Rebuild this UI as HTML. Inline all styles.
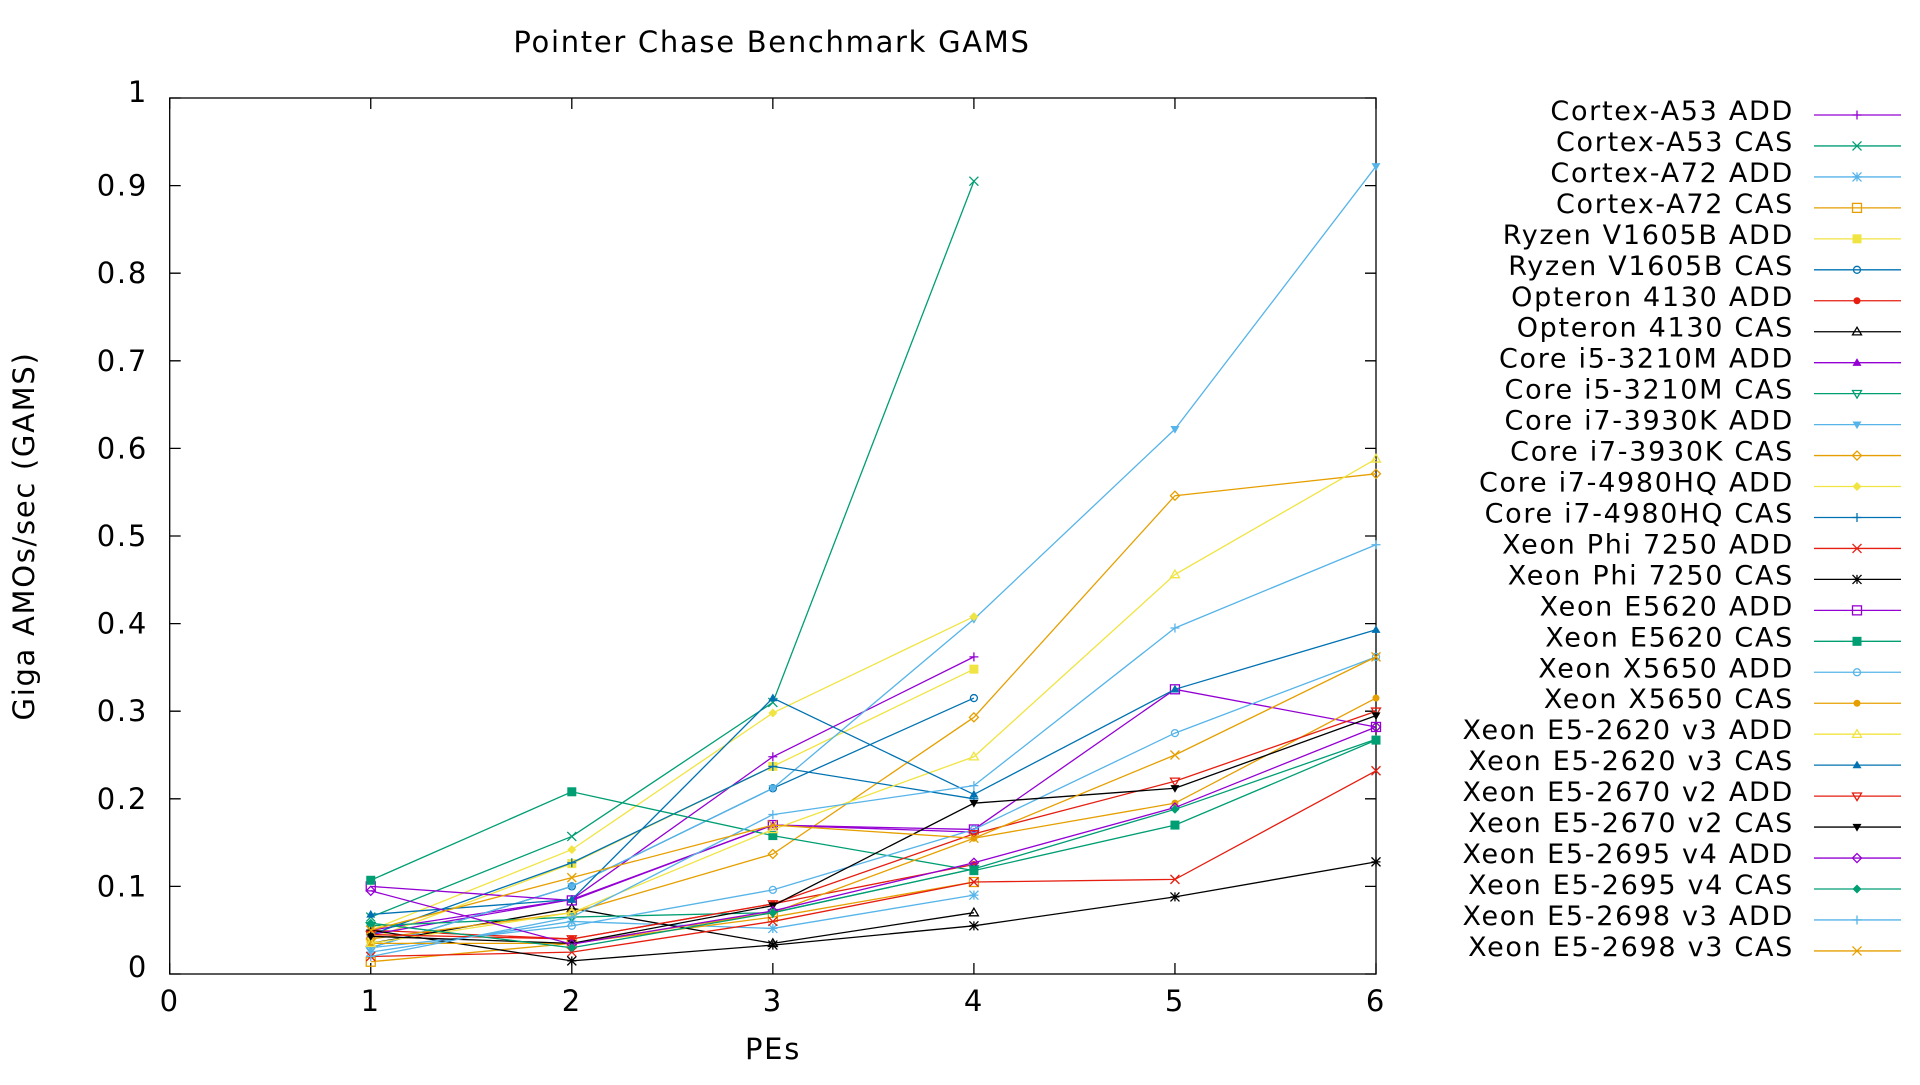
<!DOCTYPE html>
<html><head><meta charset="utf-8"><style>
html,body{margin:0;padding:0;background:#fff;}
svg text{font-family:"DejaVu Sans","Liberation Sans",sans-serif;fill:#000;letter-spacing:1.7px;}
</style></head><body>
<svg id="chart" width="1920" height="1080" xmlns="http://www.w3.org/2000/svg">
<rect x="0" y="0" width="1920" height="1080" fill="#fff"/>
<text x="772" y="52" font-size="29" text-anchor="middle">Pointer Chase Benchmark GAMS</text>
<text x="0" y="0" font-size="29" text-anchor="middle" transform="translate(34,536) rotate(-90)">Giga AMOs/sec (GAMS)</text>
<text x="773" y="1059" font-size="29" text-anchor="middle">PEs</text>
<g id="axes"></g>
<g id="series"></g>
<g id="legend"></g>
</svg>
<script>
const xTicks = [0,1,2,3,4,5,6];
const yTicks = [0,0.1,0.2,0.3,0.4,0.5,0.6,0.7,0.8,0.9,1];
const yTickLabels = ["0","0.1","0.2","0.3","0.4","0.5","0.6","0.7","0.8","0.9","1"];
const seriesNames = ["Cortex-A53 ADD","Cortex-A53 CAS","Cortex-A72 ADD","Cortex-A72 CAS","Ryzen V1605B ADD","Ryzen V1605B CAS","Opteron 4130 ADD","Opteron 4130 CAS","Core i5-3210M ADD","Core i5-3210M CAS","Core i7-3930K ADD","Core i7-3930K CAS","Core i7-4980HQ ADD","Core i7-4980HQ CAS","Xeon Phi 7250 ADD","Xeon Phi 7250 CAS","Xeon E5620 ADD","Xeon E5620 CAS","Xeon X5650 ADD","Xeon X5650 CAS","Xeon E5-2620 v3 ADD","Xeon E5-2620 v3 CAS","Xeon E5-2670 v2 ADD","Xeon E5-2670 v2 CAS","Xeon E5-2695 v4 ADD","Xeon E5-2695 v4 CAS","Xeon E5-2698 v3 ADD","Xeon E5-2698 v3 CAS"];
const pes4 = [1,2,3,4];
const pes6 = [1,2,3,4,5,6];
const cortexA53Add = [0.05,0.085,0.248,0.362];
const cortexA53Cas = [0.065,0.157,0.31,0.905];
const cortexA72Add = [0.025,0.06,0.052,0.09];
const cortexA72Cas = [0.014,0.035,0.065,0.105];
const ryzenAdd = [0.04,0.126,0.237,0.348];
const ryzenCas = [0.03,0.1,0.212,0.315];
const opteronAdd = [0.05,0.04,0.08,0.125];
const opteronCas = [0.035,0.075,0.035,0.07];
const i5Add = [0.045,0.085,0.17,0.162];
const i5Cas = [0.055,0.065,0.07,0.12];
const i7_3930Add = [0.03,0.1,0.212,0.405,0.622,0.922];
const i7_3930Cas = [0.04,0.07,0.137,0.293,0.546,0.571];
const i7_4980Add = [0.05,0.142,0.298,0.408];
const i7_4980Cas = [0.045,0.127,0.237,0.2];
const phiAdd = [0.02,0.025,0.06,0.105,0.108,0.232];
const phiCas = [0.05,0.015,0.033,0.055,0.088,0.128];
const e5620Add = [0.1,0.084,0.17,0.165,0.325,0.282];
const e5620Cas = [0.107,0.208,0.158,0.118,0.17,0.267];
const x5650Add = [0.03,0.055,0.096,0.165,0.275,0.362];
const x5650Cas = [0.035,0.035,0.07,0.155,0.195,0.315];
const e2620Add = [0.035,0.07,0.165,0.248,0.456,0.588];
const e2620Cas = [0.068,0.085,0.315,0.205,0.325,0.393];
const e2670Add = [0.045,0.04,0.08,0.16,0.22,0.3];
const e2670Cas = [0.043,0.035,0.078,0.195,0.212,0.295];
const e2695Add = [0.095,0.034,0.072,0.127,0.19,0.282];
const e2695Cas = [0.058,0.03,0.07,0.12,0.188,0.268];
const e2698Add = [0.02,0.065,0.182,0.215,0.395,0.49];
const e2698Cas = [0.05,0.11,0.17,0.155,0.25,0.362];

const seriesY = [cortexA53Add,cortexA53Cas,cortexA72Add,cortexA72Cas,ryzenAdd,ryzenCas,opteronAdd,opteronCas,i5Add,i5Cas,i7_3930Add,i7_3930Cas,i7_4980Add,i7_4980Cas,phiAdd,phiCas,e5620Add,e5620Cas,x5650Add,x5650Cas,e2620Add,e2620Cas,e2670Add,e2670Cas,e2695Add,e2695Cas,e2698Add,e2698Cas];
const colors = ["#9400d3","#009e73","#56b4e9","#e69f00","#f0e442","#0072b2","#e51e10","#000000"];
const markers = ["plus","cross","star","osquare","fsquare","ocircle","fcircle","otri","ftri","otridown","ftridown","odiamond","fdiamond","plus"];

const X0=169.7, X1=1376, Y0=974, Y1=98;
function sx(v){return X0+(v-0)/(6-0)*(X1-X0);}
function sy(v){return Y0-(v-0)/(1-0)*(Y0-Y1);}
const NS="http://www.w3.org/2000/svg";
function mk(tag,attrs,parent){const e=document.createElementNS(NS,tag);for(const k in attrs)e.setAttribute(k,attrs[k]);parent.appendChild(e);return e;}

const axes=document.getElementById('axes');
const frame=mk('rect',{x:X0,y:Y1,width:X1-X0,height:Y0-Y1,fill:'none',stroke:'#000','stroke-width':1.3},axes);


xTicks.forEach(t=>{
  const x=sx(t);
  const tk=mk('path',{d:`M${x},${Y0}v-11M${x},${Y1}v11`,stroke:'#000','stroke-width':1.3},axes);
  
  
  const lb=mk('text',{x:x,y:Y0+37,'font-size':29,'text-anchor':'middle'},axes);
  lb.textContent=String(t);
  
  
});
yTicks.forEach((t,i)=>{
  const y=sy(t);
  const tk=mk('path',{d:`M${X0},${y}h11M${X1},${y}h-11`,stroke:'#000','stroke-width':1.3},axes);
  
  
  const lb=mk('text',{x:148,y:y+(i===0?3:i===10?4:10),'font-size':29,'text-anchor':'end'},axes);
  lb.textContent=yTickLabels[i];
  
  
});

function drawMarker(g,type,x,y,c){
  const r=4.5;let e;
  switch(type){
    case 'plus': e=mk('path',{d:`M${x-r},${y}h${2*r}M${x},${y-r}v${2*r}`,stroke:c,'stroke-width':1.3,fill:'none'},g);break;
    case 'cross': e=mk('path',{d:`M${x-r},${y-r}l${2*r},${2*r}M${x-r},${y+r}l${2*r},${-2*r}`,stroke:c,'stroke-width':1.3,fill:'none'},g);break;
    case 'star': e=mk('path',{d:`M${x-r},${y}h${2*r}M${x},${y-r}v${2*r}M${x-r},${y-r}l${2*r},${2*r}M${x-r},${y+r}l${2*r},${-2*r}`,stroke:c,'stroke-width':1.3,fill:'none'},g);break;
    case 'osquare': e=mk('rect',{x:x-r,y:y-r,width:2*r,height:2*r,stroke:c,'stroke-width':1.3,fill:'none'},g);break;
    case 'fsquare': e=mk('rect',{x:x-r,y:y-r,width:2*r,height:2*r,fill:c},g);break;
    case 'ocircle': e=mk('circle',{cx:x,cy:y,r:r-1,stroke:c,'stroke-width':1.3,fill:'none'},g);break;
    case 'fcircle': e=mk('circle',{cx:x,cy:y,r:r-1,fill:c},g);break;
    case 'otri': e=mk('path',{d:`M${x},${y-r}L${x+r},${y+r*0.7}L${x-r},${y+r*0.7}Z`,stroke:c,'stroke-width':1.3,fill:'none'},g);break;
    case 'ftri': e=mk('path',{d:`M${x},${y-r}L${x+r},${y+r*0.7}L${x-r},${y+r*0.7}Z`,fill:c},g);break;
    case 'otridown': e=mk('path',{d:`M${x},${y+r}L${x+r},${y-r*0.7}L${x-r},${y-r*0.7}Z`,stroke:c,'stroke-width':1.3,fill:'none'},g);break;
    case 'ftridown': e=mk('path',{d:`M${x},${y+r}L${x+r},${y-r*0.7}L${x-r},${y-r*0.7}Z`,fill:c},g);break;
    case 'odiamond': e=mk('path',{d:`M${x},${y-r}L${x+r},${y}L${x},${y+r}L${x-r},${y}Z`,stroke:c,'stroke-width':1.3,fill:'none'},g);break;
    case 'fdiamond': e=mk('path',{d:`M${x},${y-r}L${x+r},${y}L${x},${y+r}L${x-r},${y}Z`,fill:c},g);break;
  }
  return e;
}

const sg=document.getElementById('series');
const lg=document.getElementById('legend');
seriesNames.forEach((name,i)=>{
  const c=colors[i%8], m=markers[i%13];
  const vals=seriesY[i];
  const xs=vals.length===4?pes4:pes6;
  const g=mk('g',{},sg);
  
  
  const pts=vals.map((v,j)=>sx(xs[j])+','+sy(v)).join(' ');
  const line=mk('polyline',{points:pts,fill:'none',stroke:c,'stroke-width':1.3},g);
  
  
  vals.forEach((v,j)=>{
    const p=drawMarker(g,m,sx(xs[j]),sy(v),c);
    
    
  });
  const ly=115+i*30.96;
  const le=mk('g',{},lg);
  
  
  const t=mk('text',{x:1794,y:ly+5,'font-size':27,'text-anchor':'end'},le);
  t.textContent=name;
  
  
  const ll=mk('line',{x1:1814,y1:ly,x2:1901,y2:ly,stroke:c,'stroke-width':1.3},le);
  
  
  const lm=drawMarker(le,m,1857,ly,c);
  
  
});
</script>
</body></html>
